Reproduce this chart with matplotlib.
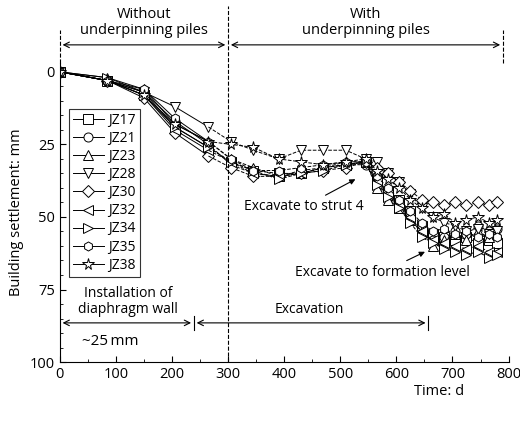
import matplotlib.pyplot as plt
import numpy as np

days = [0, 85, 150, 205, 265, 305, 345, 390, 430, 470, 510, 545,
        565, 585, 605, 625, 645, 665, 685, 705, 725, 745, 765, 780]
names = ["JZ17", "JZ21", "JZ23", "JZ28", "JZ30", "JZ32", "JZ34", "JZ35", "JZ38"]
markers = ["s", "o", "^", "v", "D", "<", ">", "h", "*"]
settle = {
    "JZ17": [0, 3, 8, 19, 26, 31, 34, 35, 35, 33, 32, 31, 37, 41, 44, 48, 53, 56, 57, 58, 57, 59, 58, 59],
    "JZ21": [0, 3, 7, 17, 25, 32, 35, 36, 35, 33, 32, 32, 38, 43, 46, 50, 56, 58, 57, 55, 56, 53, 55, 54],
    "JZ23": [0, 2, 6, 18, 24, 30, 33, 36, 34, 33, 31, 31, 40, 44, 47, 51, 55, 60, 58, 56, 58, 55, 57, 56],
    "JZ28": [0, 3, 7, 12, 19, 24, 27, 30, 27, 27, 27, 30, 31, 35, 38, 42, 47, 50, 52, 53, 55, 54, 56, 55],
    "JZ30": [0, 3, 9, 21, 29, 33, 36, 36, 35, 34, 33, 31, 33, 35, 38, 41, 44, 45, 46, 45, 46, 45, 46, 45],
    "JZ32": [0, 3, 8, 20, 27, 31, 35, 36, 35, 33, 32, 31, 38, 42, 46, 50, 55, 58, 59, 60, 61, 60, 62, 62],
    "JZ34": [0, 2, 7, 19, 26, 31, 34, 37, 35, 34, 32, 31, 39, 43, 47, 52, 57, 59, 61, 62, 63, 62, 64, 63],
    "JZ35": [0, 3, 6, 16, 24, 30, 34, 34, 33, 32, 31, 31, 36, 40, 44, 48, 52, 55, 54, 56, 55, 57, 56, 57],
    "JZ38": [0, 3, 8, 18, 24, 25, 26, 30, 31, 32, 31, 30, 34, 37, 40, 44, 47, 50, 49, 52, 51, 50, 52, 51],
}

plt.rcParams['font.family'] = ['Open Sans', 'DejaVu Sans']
plt.rcParams['font.size'] = 10
fig = plt.figure(figsize=(5.2, 4.21), dpi=100)
ax = fig.add_axes([0.115, 0.14, 0.863, 0.71])

d = np.array(days)
cut = 5
for n, m in zip(names, markers):
    v = np.array(settle[n])
    ms = 8.5 if m == "*" else 6.5
    ax.plot(d[:cut], v[:cut], '-', color='k', lw=0.7, marker=m, mfc='white', mec='k', mew=0.7, ms=ms, label=n)
    ax.plot(d[cut - 1:], v[cut - 1:], '--', color='k', lw=0.7, marker=m, mfc='white', mec='k', mew=0.7, ms=ms,
            markevery=list(range(1, len(d) - cut + 1)))

ax.set_xlim(0, 800)
ax.set_ylim(100, -3)
ax.set_xticks(range(0, 801, 100))
ax.set_yticks([0, 25, 50, 75, 100])
ax.set_yticks(range(0, 101, 5), minor=True)
ax.set_xticks(range(0, 801, 50), minor=True)
ax.tick_params(direction='in', which='both', labelsize=10.5)
ax.tick_params(which='major', length=4)
ax.tick_params(which='minor', length=2)
for s in ['top', 'right']:
    ax.spines[s].set_visible(False)
ax.set_ylabel("Building settlement: mm", fontsize=10.5)
ax.set_xlabel("Time: d", fontsize=10.5)
ax.xaxis.set_label_coords(0.845, -0.075)

ax.axvline(300, color='k', ls='--', lw=0.8, ymin=0, ymax=1.19, clip_on=False)

leg = ax.legend(loc='upper left', bbox_to_anchor=(0.005, 0.87), frameon=True, fancybox=False,
                edgecolor='k', handlelength=2.2, labelspacing=0.22, borderpad=0.3, handletextpad=0.3)
leg.get_frame().set_linewidth(0.8)

# top arrows
ax.annotate('', xy=(0, -9.3), xytext=(300, -9.3),
            arrowprops=dict(arrowstyle='<->', lw=0.8), annotation_clip=False)
ax.annotate('', xy=(300, -9.3), xytext=(790, -9.3),
            arrowprops=dict(arrowstyle='<->', lw=0.8), annotation_clip=False)
ax.plot([0, 0], [-3, -14.5], '--', color='k', lw=0.8, clip_on=False)
ax.plot([790, 790], [-3, -14.5], '--', color='k', lw=0.8, clip_on=False)
ax.text(150, -11.5, "Without\nunderpinning piles", ha='center', va='bottom', linespacing=1.1, fontsize=10.5)
ax.text(545, -11.5, "With\nunderpinning piles", ha='center', va='bottom', linespacing=1.1, fontsize=10.5)

# bottom arrows
ax.annotate('', xy=(0, 86.5), xytext=(239, 86.5), arrowprops=dict(arrowstyle='<->', lw=0.8))
ax.annotate('', xy=(239, 86.5), xytext=(657, 86.5), arrowprops=dict(arrowstyle='<->', lw=0.8))
ax.plot([239, 239], [84, 89], color='k', lw=0.8)
ax.plot([657, 657], [84, 89], color='k', lw=0.8)
ax.text(122, 84.5, "Installation of\ndiaphragm wall", ha='center', va='bottom', linespacing=1.1)
ax.text(445, 84.5, "Excavation", ha='center', va='bottom')
ax.text(40, 93, "~25\u2009mm", ha='left', va='center', fontsize=11)

ax.annotate("Excavate to strut 4", xy=(527, 37), xytext=(435, 46.5), ha='center', va='center',
            arrowprops=dict(arrowstyle='-|>', color='k', lw=0.8, mutation_scale=8, shrinkA=2, shrinkB=0))
ax.annotate("Excavate to formation level", xy=(651, 62), xytext=(576, 69), ha='center', va='center',
            arrowprops=dict(arrowstyle='-|>', color='k', lw=0.8, mutation_scale=8, shrinkA=2, shrinkB=0))

fig.savefig("out.png", dpi=100)
